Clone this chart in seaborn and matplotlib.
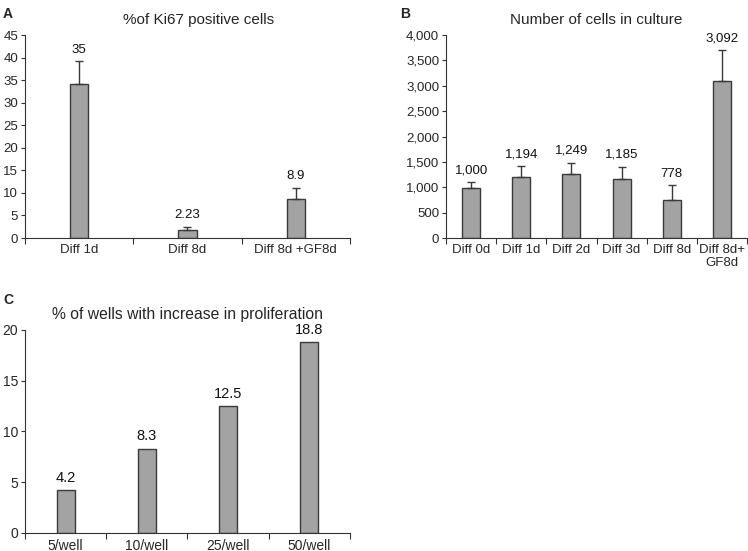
import matplotlib
matplotlib.use('Agg')
import matplotlib.pyplot as plt
import matplotlib.ticker as mticker
import numpy as np
import pandas as pd
import seaborn as sns

sns.set_style('ticks')
plt.rcParams['font.family'] = ['Liberation Sans', 'DejaVu Sans']

# Panel A: % of Ki67 positive cells
ki67_groups = ['Diff 1d', 'Diff 8d', 'Diff 8d +GF8d']
ki67_values = [34.2, 1.8, 8.6]
ki67_err = [5.0, 0.7, 2.6]
ki67_labels = ['35', '2.23', '8.9']

# Panel B: number of cells in culture
cells_groups = ['Diff 0d', 'Diff 1d', 'Diff 2d', 'Diff 3d', 'Diff 8d', 'Diff 8d+\nGF8d']
cells_values = [994, 1210, 1270, 1171, 754, 3095]
cells_err = [117, 200, 218, 238, 282, 610]
cells_labels = ['1,000', '1,194', '1,249', '1,185', '778', '3,092']

# Panel C: % of wells with increase in proliferation
wells_groups = ['5/well', '10/well', '25/well', '50/well']
wells_values = [4.2, 8.3, 12.5, 18.8]
wells_labels = ['4.2', '8.3', '12.5', '18.8']

BAR = '#a3a3a3'
EDGE = '#3a3a3a'
AXC = '#333333'


def draw_panel(ax, groups, values, labels, err, width, ylim, yticks, title,
               title_size=11, title_x=0.5, fmt=None, tick_size=9.5, label_size=9.5):
    df = pd.DataFrame({'group': groups, 'value': values})
    sns.barplot(data=df, x='group', y='value', ax=ax, color=BAR,
                saturation=1, width=width, edgecolor=EDGE, linewidth=1)
    x = np.arange(len(groups))
    tops = np.array(values, dtype=float)
    if err is not None:
        ax.errorbar(x, values, yerr=[np.zeros(len(err)), err], fmt='none',
                    ecolor=EDGE, elinewidth=1, capsize=3, capthick=1)
        tops = tops + np.array(err)
    for xi, top, lab in zip(x, tops, labels):
        ax.annotate(lab, xy=(xi, top), xytext=(0, 4), textcoords='offset points',
                    ha='center', va='bottom', fontsize=label_size, color='#111111')
    ax.set_xlim(-0.5, len(groups) - 0.5)
    ax.set_ylim(*ylim)
    ax.set_yticks(yticks)
    if fmt:
        ax.yaxis.set_major_formatter(mticker.FuncFormatter(fmt))
    # boundary tick marks, labels centred between them
    ax.set_xticks(np.arange(len(groups) + 1) - 0.5)
    ax.set_xticklabels([])
    ax.set_xticks(x, minor=True)
    ax.set_xticklabels(groups, minor=True, fontsize=tick_size)
    ax.tick_params(axis='x', which='minor', length=0, pad=4)
    ax.tick_params(axis='x', which='major', length=4, color=AXC, width=0.8)
    ax.tick_params(axis='y', length=3, color=AXC, width=0.8, labelsize=tick_size, pad=2)
    ax.set_xlabel('')
    ax.set_ylabel('')
    ax.set_title(title, fontsize=title_size, pad=8, x=title_x)
    sns.despine(ax=ax)
    for s in ['left', 'bottom']:
        ax.spines[s].set_color(AXC)
        ax.spines[s].set_linewidth(0.8)


fig = plt.figure(figsize=(7.48, 5.51), dpi=100)
ax_a = fig.add_axes([0.0334, 0.568, 0.4345, 0.3684])
ax_b = fig.add_axes([0.5963, 0.568, 0.4024, 0.3684])
ax_c = fig.add_axes([0.0334, 0.0327, 0.4345, 0.3684])

draw_panel(ax_a, ki67_groups, ki67_values, ki67_labels, ki67_err, 0.167,
           (0, 45), range(0, 46, 5), '%of Ki67 positive cells', title_x=0.535)
draw_panel(ax_b, cells_groups, cells_values, cells_labels, cells_err, 0.36,
           (0, 4000), range(0, 4001, 500), 'Number of cells in culture',
           fmt=lambda v, p: '{:,.0f}'.format(v))
draw_panel(ax_c, wells_groups, wells_values, wells_labels, None, 0.22,
           (0, 20), range(0, 21, 5), '% of wells with increase in proliferation',
           title_size=11.3, tick_size=10, label_size=10.5)

fig.text(0.004, 0.987, 'A', fontsize=10, fontweight='bold', va='top')
fig.text(0.535, 0.987, 'B', fontsize=10, fontweight='bold', va='top')
fig.text(0.004, 0.468, 'C', fontsize=10, fontweight='bold', va='top')

fig.savefig('out.png', dpi=100, facecolor='white')
